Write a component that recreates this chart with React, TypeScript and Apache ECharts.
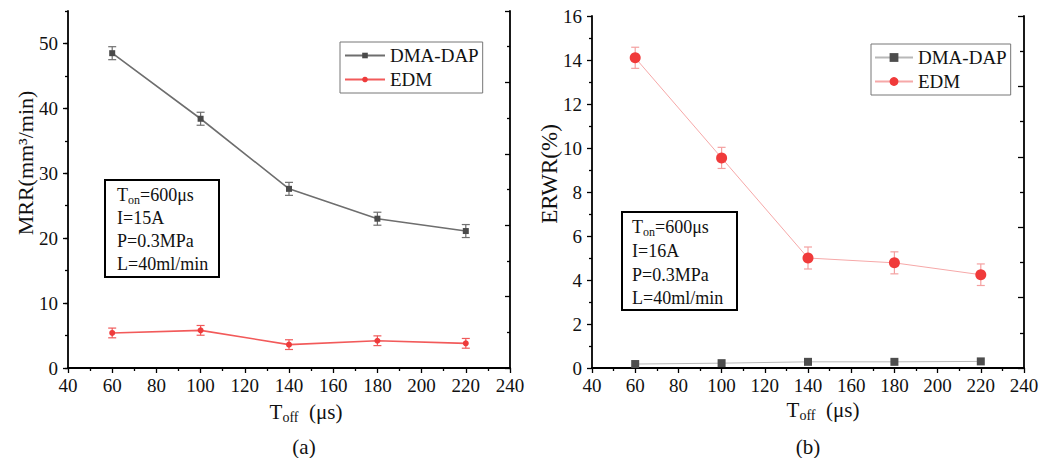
import React, { useEffect, useRef } from "react";
import * as echarts from "echarts";

// ---- data ----
const tOff = [60, 100, 140, 180, 220];
const mrrDma = [48.5, 38.4, 27.6, 23.0, 21.1];
const mrrDmaErr = [1.0, 1.0, 1.0, 1.0, 1.0];
const mrrEdm = [5.4, 5.8, 3.6, 4.2, 3.8];
const mrrEdmErr = [0.75, 0.75, 0.75, 0.75, 0.75];
const erwrDma = [0.18, 0.22, 0.28, 0.28, 0.3];
const erwrEdm = [14.1, 9.55, 5.0, 4.78, 4.24];
const erwrEdmErr = [0.48, 0.48, 0.5, 0.5, 0.49];
const xTicksMajor = [40, 240, 20];
const mrrTickLabels = [0, 10, 20, 30, 40, 50];
const boxA = ["I=15A", "P=0.3MPa", "L=40ml/min"];
const boxB = ["I=16A", "P=0.3MPa", "L=40ml/min"];

const FONT = "Liberation Serif";
const BLACK = "#111";

const pairs = (xs: number[], ys: number[]) => xs.map((x, i) => [x, ys[i]]);
const triples = (xs: number[], ys: number[], es: number[]) => xs.map((x, i) => [x, ys[i], es[i]]);

function errorBars(name: string, gi: number, data: number[][], color: string, cap: number) {
  return {
    type: "custom",
    name,
    xAxisIndex: gi === 0 ? 0 : 2,
    yAxisIndex: gi === 0 ? 0 : 3,
    z: 1,
    silent: true,
    encode: { x: 0, y: 1 },
    data,
    renderItem: (params: any, api: any) => {
      const x = api.value(0);
      const y = api.value(1);
      const e = api.value(2);
      const top = api.coord([x, y + e]);
      const bot = api.coord([x, y - e]);
      const style = { stroke: color, lineWidth: 1.2 };
      const h = cap / 2;
      return {
        type: "group",
        children: [
          { type: "line", shape: { x1: top[0], y1: top[1], x2: bot[0], y2: bot[1] }, style },
          { type: "line", shape: { x1: top[0] - h, y1: top[1], x2: top[0] + h, y2: top[1] }, style },
          { type: "line", shape: { x1: bot[0] - h, y1: bot[1], x2: bot[0] + h, y2: bot[1] }, style },
        ],
      };
    },
  };
}

const axisLine = { show: true, lineStyle: { color: "#000", width: 1.8 } };
const labelStyle = { color: BLACK, fontFamily: FONT, fontSize: 19 };

function bottomX(gi: number) {
  return {
    type: "value",
    gridIndex: gi,
    position: "bottom",
    min: xTicksMajor[0],
    max: xTicksMajor[1],
    interval: xTicksMajor[2],
    axisLine,
    axisTick: { show: true, inside: false, length: 5, lineStyle: { color: "#000", width: 1.3 } },
    minorTick: { show: true, splitNumber: 2, length: 3, lineStyle: { color: "#000", width: 1.3 } },
    axisLabel: { ...labelStyle, margin: 8 },
    splitLine: { show: false },
  };
}
function topX(gi: number) {
  return {
    type: "value",
    gridIndex: gi,
    position: "top",
    min: xTicksMajor[0],
    max: xTicksMajor[1],
    interval: xTicksMajor[2],
    axisLine,
    axisTick: { show: false },
    axisLabel: { show: false },
    splitLine: { show: false },
  };
}

function subText(main: string, sub: string, rest: string, size: number, subSize: number) {
  return {
    text: `{t|${main}}{s|${sub}}{t|${rest}}`,
    rich: {
      t: { fontSize: size, fontFamily: FONT, fill: BLACK, color: BLACK, lineHeight: size + 4 },
      s: { fontSize: subSize, fontFamily: FONT, fill: BLACK, color: BLACK, lineHeight: subSize - 2, verticalAlign: "bottom" },
    },
  };
}

function txt(x: number, y: number, text: string, size: number, align = "left", rotation = 0) {
  return {
    type: "text",
    x,
    y,
    rotation,
    z: 100,
    style: {
      text,
      fontSize: size,
      fontFamily: FONT,
      fill: BLACK,
      align,
      textAlign: align,
      verticalAlign: "middle",
      textVerticalAlign: "middle",
    },
  };
}

function annotBox(x: number, y: number, w: number, h: number, lines: string[], tx: number, ys: number[]) {
  const els: any[] = [
    { type: "rect", z: 99, shape: { x, y, width: w, height: h }, style: { fill: "#fff", stroke: "#000", lineWidth: 2 } },
    {
      type: "text",
      x: tx,
      y: ys[0],
      z: 100,
      style: { ...subText("T", "on", "=600μs", 18, 12), align: "left", textAlign: "left", verticalAlign: "middle", textVerticalAlign: "middle" },
    },
  ];
  lines.forEach((l, i) => els.push(txt(tx, ys[i + 1], l, 18)));
  return els;
}

export default function App() {
  const ref = useRef<HTMLDivElement>(null);
  useEffect(() => {
    if (!ref.current) return;
    const chart = echarts.init(ref.current, undefined, { renderer: "svg" });
    const option: any = {
      animation: false,
      backgroundColor: "#fff",
      textStyle: { fontFamily: FONT },
      grid: [
        { left: 68, top: 11, width: 442, height: 357, show: false },
        { left: 592, top: 16, width: 432, height: 352, show: false },
      ],
      xAxis: [bottomX(0), topX(0), bottomX(1), topX(1)],
      yAxis: [
        {
          type: "value",
          gridIndex: 0,
          position: "left",
          min: 0,
          max: 55,
          interval: 10,
          axisLine,
          axisTick: { show: true, length: 5, customValues: mrrTickLabels, lineStyle: { color: "#000", width: 1.3 } },
          axisLabel: { ...labelStyle, margin: 10, customValues: mrrTickLabels },
          splitLine: { show: false },
        },
        {
          type: "value",
          gridIndex: 0,
          position: "left",
          min: 0,
          max: 55,
          interval: 5,
          axisLine: { show: false },
          axisTick: { show: true, length: 3, lineStyle: { color: "#000", width: 1.3 } },
          axisLabel: { show: false },
          splitLine: { show: false },
        },
        {
          type: "value",
          gridIndex: 0,
          position: "right",
          min: 0,
          max: 55,
          interval: 11,
          axisLine,
          axisTick: { show: true, inside: true, length: 5, lineStyle: { color: "#000", width: 1.3 } },
          minorTick: { show: true, splitNumber: 2, length: 3, lineStyle: { color: "#000", width: 1.3 } },
          axisLabel: { show: false },
          splitLine: { show: false },
        },
        {
          type: "value",
          gridIndex: 1,
          position: "left",
          min: 0,
          max: 16,
          interval: 2,
          axisLine,
          axisTick: { show: true, length: 5, lineStyle: { color: "#000", width: 1.3 } },
          minorTick: { show: true, splitNumber: 2, length: 3, lineStyle: { color: "#000", width: 1.3 } },
          axisLabel: { ...labelStyle, margin: 10 },
          splitLine: { show: false },
        },
        {
          type: "value",
          gridIndex: 1,
          position: "right",
          min: 0,
          max: 16,
          interval: 3.2,
          axisLine,
          axisTick: { show: true, inside: true, length: 6, lineStyle: { color: "#000", width: 1.3 } },
          minorTick: { show: true, splitNumber: 2, length: 4, lineStyle: { color: "#000", width: 1.3 } },
          axisLabel: { show: false },
          splitLine: { show: false },
        },
      ],
      legend: [
        {
          orient: "vertical",
          left: 340,
          top: 42,
          data: ["DMA-DAP", "EDM"],
          itemWidth: 40,
          itemHeight: 7,
          itemGap: 5,
          padding: [4, 4, 4, 4],
          borderColor: "#777",
          borderWidth: 1,
          selectedMode: false,
          textStyle: { color: BLACK, fontFamily: FONT, fontSize: 19 },
        },
        {
          orient: "vertical",
          left: 871,
          top: 44,
          data: ["DMA-DAP ", "EDM "],
          formatter: (n: string) => n.trim(),
          itemWidth: 38,
          itemHeight: 11,
          itemGap: 5,
          padding: [4, 4, 4, 3],
          borderColor: "#777",
          borderWidth: 1,
          selectedMode: false,
          textStyle: { color: BLACK, fontFamily: FONT, fontSize: 19 },
        },
      ],
      series: [
        errorBars("errA1", 0, triples(tOff, mrrDma, mrrDmaErr), "#6f6f6f", 8),
        errorBars("errA2", 0, triples(tOff, mrrEdm, mrrEdmErr), "#f05a5a", 8),
        {
          type: "line",
          name: "DMA-DAP",
          xAxisIndex: 0,
          yAxisIndex: 0,
          z: 3,
          data: pairs(tOff, mrrDma),
          symbol: "rect",
          symbolSize: 6,
          itemStyle: { color: "#4a4a4a" },
          lineStyle: { color: "#6e6e6e", width: 1.6 },
        },
        {
          type: "line",
          name: "EDM",
          xAxisIndex: 0,
          yAxisIndex: 0,
          z: 3,
          data: pairs(tOff, mrrEdm),
          symbol: "circle",
          symbolSize: 6,
          itemStyle: { color: "#ee3b3b" },
          lineStyle: { color: "#f25a5a", width: 1.6 },
        },
        errorBars("errB2", 1, triples(tOff, erwrEdm, erwrEdmErr), "#f4a0a0", 8),
        {
          type: "line",
          name: "DMA-DAP ",
          xAxisIndex: 2,
          yAxisIndex: 3,
          z: 3,
          data: pairs(tOff, erwrDma),
          symbol: "rect",
          symbolSize: 8,
          itemStyle: { color: "#4d4d4d" },
          lineStyle: { color: "#b8b8b8", width: 1 },
        },
        {
          type: "line",
          name: "EDM ",
          xAxisIndex: 2,
          yAxisIndex: 3,
          z: 3,
          data: pairs(tOff, erwrEdm),
          symbol: "circle",
          symbolSize: 11,
          itemStyle: { color: "#f03a3a" },
          lineStyle: { color: "#f6a8a8", width: 1 },
        },
      ],
      graphic: [
        txt(25, 163, "MRR(mm³/min)", 22, "center", Math.PI / 2),
        txt(549, 174, "ERWR(%)", 23, "center", Math.PI / 2),
        {
          type: "text",
          x: 306,
          y: 412,
          z: 100,
          style: { ...subText("T", "off", "  (μs)", 21, 14), align: "center", textAlign: "center", verticalAlign: "middle", textVerticalAlign: "middle" },
        },
        {
          type: "text",
          x: 823,
          y: 410,
          z: 100,
          style: { ...subText("T", "off", "  (μs)", 21, 14), align: "center", textAlign: "center", verticalAlign: "middle", textVerticalAlign: "middle" },
        },
        txt(304, 447, "(a)", 21, "center"),
        txt(808, 447, "(b)", 21, "center"),
        ...annotBox(105, 180, 114, 97, boxA, 117, [195, 218, 241, 264]),
        ...annotBox(622, 212, 115, 98, boxB, 632, [227, 251, 275, 298]),
      ],
    };
    chart.setOption(option);
    return () => chart.dispose();
  }, []);
  return (
    <div
      ref={ref}
      style={{ position: "fixed", left: 0, top: 0, width: 1049, height: 458, background: "#fff" }}
    />
  );
}
